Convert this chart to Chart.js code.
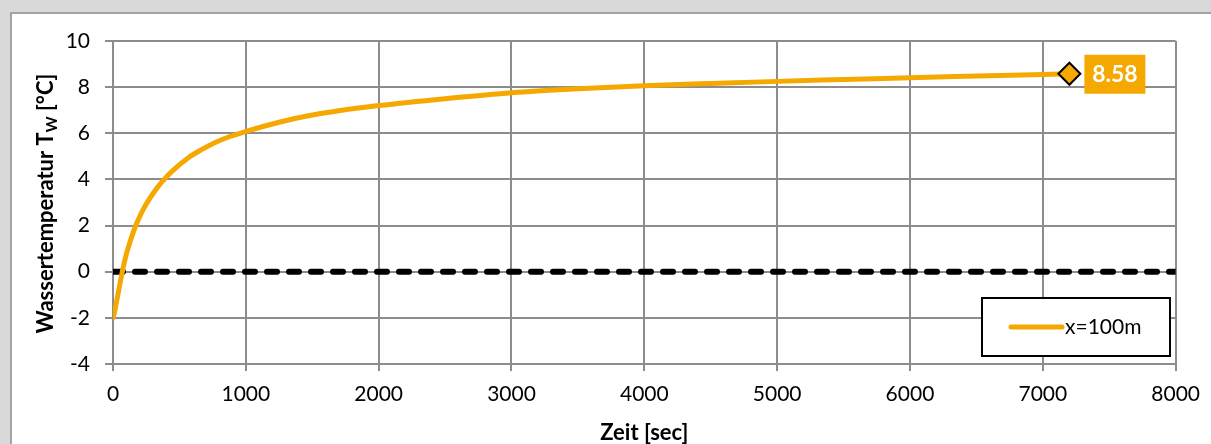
<!DOCTYPE html>
<html>
<head>
<meta charset="utf-8">
<script src="https://cdn.jsdelivr.net/npm/chart.js@4/dist/chart.umd.min.js"></script>
<style>
html,body{margin:0;padding:0;background:#d9d9d9;}
#wrap{width:1211px;height:444px;position:relative;}
</style>
</head>
<body>
<div id="wrap"><canvas id="c" width="1211" height="444"></canvas></div>
<script>
// ---- data ----
const timeSec = [0,10,25,45,70,100,135,170,210,245,300,370,450,570,670,770,880,1000,1250,1450,1700,2000,2500,3000,3500,4000,4500,5000,5500,6000,6500,7000,7200];
const tempX100 = [-2,-1.8,-1.35,-0.75,0,0.75,1.42,1.98,2.5,2.88,3.38,3.9,4.38,4.95,5.3,5.6,5.86,6.08,6.48,6.74,6.98,7.2,7.5,7.76,7.93,8.06,8.16,8.25,8.33,8.41,8.48,8.55,8.58];
const zeroLineX = [0,8000];
const zeroLineY = [0,0];
const seriesLabel = 'x=100m';
const xTicks = [0,1000,2000,3000,4000,5000,6000,7000,8000];
const yTicks = [-4,-2,0,2,4,6,8,10];
const xTitle = 'Zeit [sec]';
const yTitleMain = 'Wassertemperatur T';
const yTitleSub = 'W';
const yTitleEnd = ' [°C]';

const ORANGE = '#F5A800';
const GRID = '#8c8c8c';
const FONT = 'Lato, "Open Sans", sans-serif';

const bgPlugin = {
  id:'bg',
  beforeDraw(chart){
    const c = chart.ctx;
    c.save();
    c.fillStyle = '#d9d9d9';
    c.fillRect(0,0,chart.width,chart.height);
    c.fillStyle = '#ffffff';
    c.fillRect(11,13,chart.width-11,chart.height-13);
    c.strokeStyle = '#a3a3a3';
    c.lineWidth = 2;
    c.beginPath();
    c.moveTo(11,chart.height);
    c.lineTo(11,13);
    c.lineTo(chart.width,13);
    c.stroke();
    c.restore();
  }
};

const decoPlugin = {
  id:'deco',
  afterDraw(chart){
    const c = chart.ctx;
    const ca = chart.chartArea;
    c.save();
    // y title with subscript
    c.fillStyle = '#000';
    c.textBaseline = 'alphabetic';
    const big = 'bold 22px ' + FONT, small = 'bold 15px ' + FONT;
    c.font = big; const w1 = c.measureText(yTitleMain).width; const w3 = c.measureText(yTitleEnd).width;
    c.font = small; const w2 = c.measureText(yTitleSub).width;
    const total = w1 + w2 + w3;
    c.translate(53, (ca.top + ca.bottom)/2 + 1);
    c.rotate(-Math.PI/2);
    let x0 = -total/2;
    c.font = big; c.fillText(yTitleMain, x0, 0);
    c.font = small; c.fillText(yTitleSub, x0 + w1, 4);
    c.font = big; c.fillText(yTitleEnd, x0 + w1 + w2, 0);
    c.restore();

    // x title
    c.save();
    c.fillStyle = '#000';
    c.font = 'bold 22px ' + FONT;
    c.textAlign = 'center';
    c.textBaseline = 'alphabetic';
    c.fillText(xTitle, (ca.left + ca.right)/2, 440);
    c.restore();

    // data label on last point
    const meta = chart.getDatasetMeta(0);
    const last = meta.data[meta.data.length-1];
    const val = tempX100[tempX100.length-1];
    c.save();
    c.fillStyle = ORANGE;
    c.fillRect(last.x + 15, last.y - 19, 61, 39);
    c.fillStyle = '#fff';
    c.font = 'bold 23px ' + FONT;
    c.textAlign = 'center';
    c.textBaseline = 'middle';
    c.fillText(val.toFixed(2), last.x + 15 + 30.5, last.y + 1);
    c.restore();

    // legend
    c.save();
    const lx = 982, ly = 298, lw = 188, lh = 58;
    c.fillStyle = '#fff';
    c.fillRect(lx, ly, lw, lh);
    c.strokeStyle = '#000';
    c.lineWidth = 2;
    c.strokeRect(lx, ly, lw, lh);
    c.strokeStyle = ORANGE;
    c.lineWidth = 5;
    c.lineCap = 'round';
    c.beginPath();
    c.moveTo(lx + 29, ly + 29);
    c.lineTo(lx + 80, ly + 29);
    c.stroke();
    c.fillStyle = '#000';
    c.font = '21px ' + FONT;
    c.textBaseline = 'middle';
    c.fillText(chart.data.datasets[0].label, lx + 83, ly + 29);
    c.restore();
  }
};

const ctx = document.getElementById('c').getContext('2d');
new Chart(ctx, {
  type:'scatter',
  data:{
    datasets:[
      {
        label: seriesLabel,
        data: timeSec.map((t,i)=>({x:t,y:tempX100[i]})),
        showLine:true,
        borderColor: ORANGE,
        backgroundColor: ORANGE,
        borderWidth: 5,
        borderCapStyle:'round',
        borderJoinStyle:'round',
        cubicInterpolationMode:'monotone',
        pointStyle:'rectRot',
        pointRadius: (c)=> c.dataIndex === timeSec.length-1 ? 11 : 0,
        pointBorderColor:'#000',
        pointBackgroundColor: ORANGE,
        pointBorderWidth: 2,
        order: 1
      },
      {
        label:'zero',
        data: zeroLineX.map((t,i)=>({x:t,y:zeroLineY[i]})),
        showLine:true,
        borderColor:'#000',
        borderWidth:6,
        borderDash:[10,12],
        borderCapStyle:'round',
        pointRadius:0,
        order: 2
      }
    ]
  },
  options:{
    responsive:false,
    animation:false,
    layout:{padding:{left:0,top:41,right:34,bottom:0}},
    plugins:{legend:{display:false},tooltip:{enabled:false}},
    scales:{
      x:{
        type:'linear', min:0, max:8000,
        afterBuildTicks: s => { s.ticks = xTicks.map(v=>({value:v})); },
        afterFit: s => { s.height = 80; },
        grid:{color:GRID, lineWidth:2, tickLength:7, drawTicks:true},
        border:{color:GRID, width:2},
        ticks:{color:'#000', font:{family:FONT, size:21}, padding:11, maxRotation:0, callback:v=>String(v)}
      },
      y:{
        type:'linear', min:-4, max:10,
        afterBuildTicks: s => { s.ticks = yTicks.map(v=>({value:v})); },
        afterFit: s => { s.width = 113; },
        grid:{color:GRID, lineWidth:2, tickLength:8},
        border:{color:GRID, width:2},
        ticks:{color:'#000', font:{family:FONT, size:21}, padding:15, callback:v=>String(v)}
      }
    }
  },
  plugins:[bgPlugin, decoPlugin]
});
</script>
</body>
</html>
